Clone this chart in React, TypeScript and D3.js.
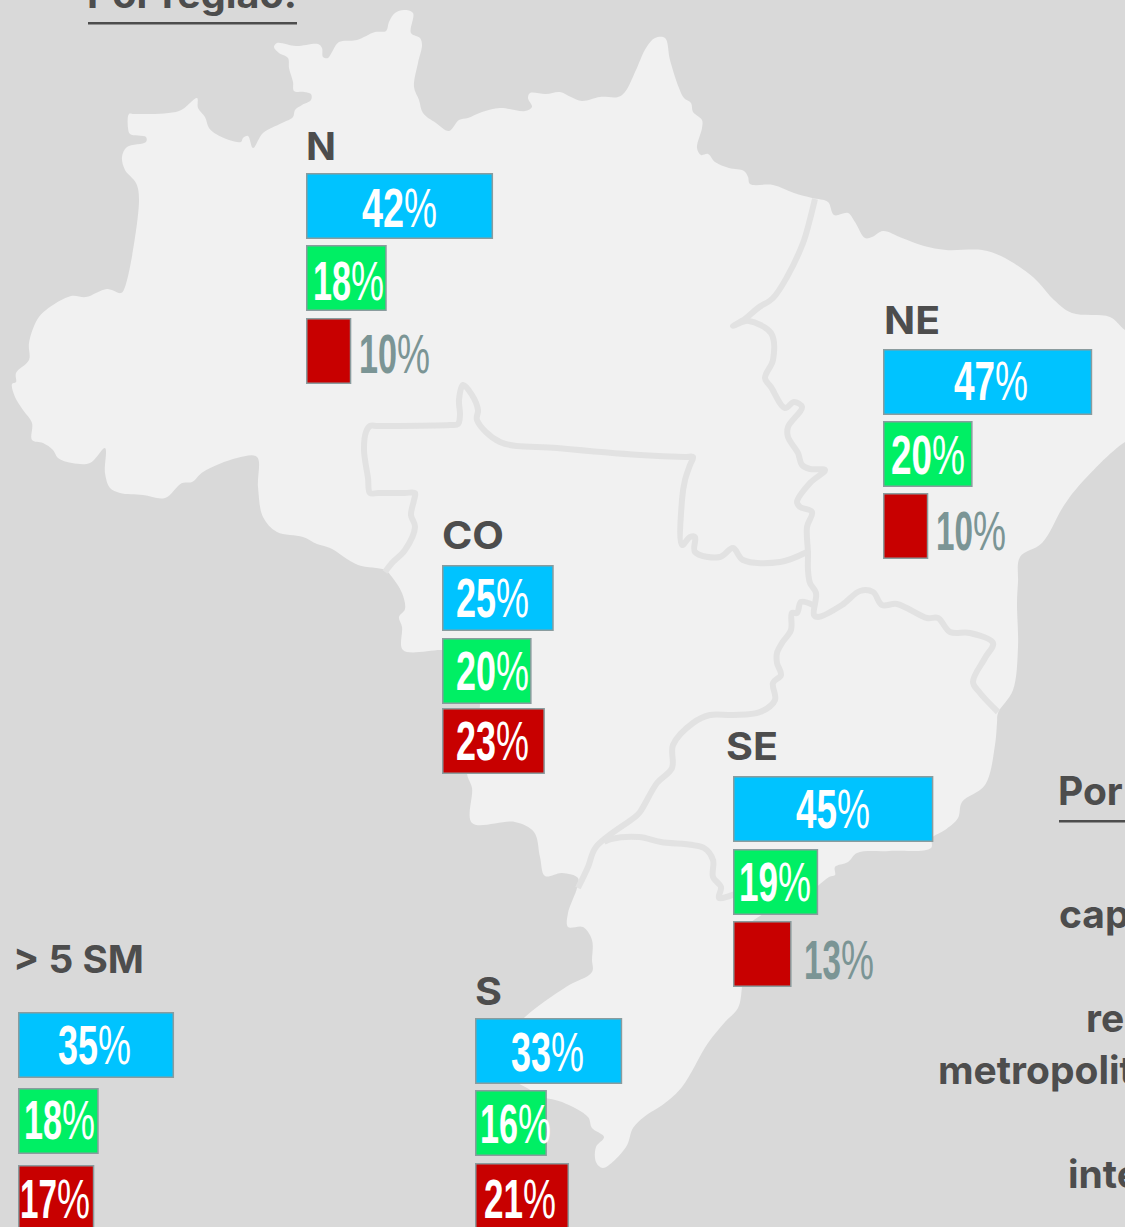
import React from "react";
import * as d3 from "d3";

type P = [number, number];

// ---------- data ----------
const seriesNames = ["azul", "verde", "vermelho"];
const regionNames = ["N", "NE", "CO", "SE", "S", "> 5 SM"];
const valuesN = [42, 18, 10];
const valuesNE = [47, 20, 10];
const valuesCO = [25, 20, 23];
const valuesSE = [45, 19, 13];
const valuesS = [33, 16, 21];
const valuesSM = [35, 18, 17];
const allValues = [valuesN, valuesNE, valuesCO, valuesSE, valuesS, valuesSM];
const sideTitles = ["Por região:", "Por"];
const sideLabels = ["cap", "re", "metropolit", "inte"];

// ---------- map geometry ----------
const brazilOutline: P[] = [
  [129,114],[134,114],[179,111],[197,98],[198,108],[205,117],[209,128],[216,134],[229,140],[241,142],[243,138],[248,136],[253,148],[263,133],[282,123],[293,117],[295,110],[302,105],[311,100],[311,94],[304,92],[294,91],[293,82],[289,68],[288,58],[279,53],[274,47],[277,43],[296,46],[318,44],[322,48],[323,57],[328,58],[332,52],[339,42],[357,40],[375,32],[386,31],[389,22],[395,13],[404,10],[413,13],[411,33],[420,38],[422,45],[418,63],[414,87],[419,100],[423,113],[436,123],[449,131],[459,120],[468,118],[482,112],[500,108],[525,111],[532,107],[528,98],[530,93],[546,94],[560,92],[571,97],[582,101],[600,97],[618,97],[625,92],[636,70],[646,48],[655,38],[665,38],[670,60],[679,88],[684,98],[691,103],[693,112],[702,120],[702,128],[697,148],[701,155],[708,154],[715,162],[729,168],[744,171],[748,177],[750,184],[773,185],[794,193],[812,198],[828,202],[834,215],[848,213],[855,222],[865,238],[872,237],[883,231],[902,238],[924,246],[946,250],[982,250],[1001,256],[1028,273],[1039,283],[1054,300],[1072,313],[1110,317],[1125,330],[1145,340],[1145,435],[1125,442],[1077,488],[1063,507],[1042,543],[1020,557],[1018,582],[1017,603],[1018,647],[1013,690],[998,713],[997,723],[995,745],[985,785],[962,802],[958,818],[945,830],[932,838],[931,848],[889,851],[857,853],[848,862],[835,867],[835,875],[829,877],[800,900],[760,916],[745,930],[742,987],[738,1008],[725,1022],[708,1043],[682,1087],[665,1103],[644,1117],[633,1128],[626,1147],[603,1168],[596,1162],[596,1147],[604,1137],[592,1128],[588,1117],[562,1102],[543,1097],[527,1088],[500,1070],[500,1045],[525,1017],[566,987],[592,972],[592,960],[592,940],[583,927],[568,927],[568,913],[577,888],[578,878],[562,873],[545,876],[540,857],[534,832],[515,822],[472,823],[472,788],[467,773],[475,740],[480,705],[478,680],[465,652],[442,650],[403,650],[402,627],[399,617],[405,609],[402,593],[392,577],[385,570],[358,565],[330,548],[317,544],[303,537],[277,532],[263,517],[258,487],[257,457],[237,458],[203,472],[192,482],[182,483],[165,498],[143,495],[120,493],[110,488],[105,473],[105,448],[90,463],[72,463],[58,458],[53,450],[43,443],[32,440],[32,423],[23,410],[15,397],[12,384],[16,382],[16,373],[29,360],[29,343],[37,320],[46,310],[71,296],[86,297],[107,289],[121,293],[125,287],[139,200],[136,183],[125,170],[122,157],[127,147],[146,142],[146,137],[130,134],[128,128],
];
const borderNorthEast: P[] = [
  [815,199],[809,223],[803,243],[787,277],[773,298],[758,308],[745,319],[733,326],[742,322],[749,321],[771,333],[773,360],[765,378],[771,387],[785,408],[794,402],[802,407],[788,427],[788,437],[798,453],[802,465],[810,469],[825,470],[810,483],[797,502],[800,507],[812,512],[807,527],[808,553],[808,570],[810,583],[816,593],[814,615],[818,617],[842,605],[860,591],[873,592],[882,605],[897,604],[927,618],[938,618],[950,632],[970,633],[993,643],[985,658],[973,682],[980,693],[998,712],
];
const borderNorthCenter: P[] = [
  [385,572],[392,563],[405,550],[415,527],[411,515],[414,500],[415,493],[405,493],[378,493],[370,493],[368,478],[364,450],[366,432],[370,426],[378,426],[450,425],[458,424],[460,415],[459,400],[463,385],[472,395],[478,410],[477,420],[500,442],[557,448],[640,455],[685,457],[693,457],[690,465],[685,480],[682,500],[682,545],[690,537],[695,537],[695,552],[720,557],[733,548],[743,560],[780,562],[807,552],
];
const borderCenterSouth: P[] = [
  [813,605],[801,602],[797,613],[792,613],[791,630],[782,643],[777,653],[777,663],[781,675],[773,683],[775,700],[760,712],[733,715],[710,715],[693,723],[673,745],[672,768],[657,783],[640,812],[635,817],[596,847],[588,867],[578,888],
];
const borderSouthEast: P[] = [
  [604,842],[611,839],[639,837],[661,842],[704,848],[713,860],[713,877],[721,887],[719,898],[735,894],
];
const allBorders = [borderNorthEast, borderNorthCenter, borderCenterSouth, borderSouthEast];

// ---------- layout ----------
const colors = ["#00c3ff", "#00ef64", "#c80000"];
const groupX = [306, 883, 442, 733, 475, 18];
const rowTops = [
  [173, 245, 318],
  [349, 421, 493],
  [565, 638, 708],
  [776, 849, 921],
  [1018, 1090, 1163],
  [1012, 1088, 1165],
];
const headingPos: P[] = [[306, 160], [884, 334], [442, 549], [726, 760], [475, 1005], [13, 973]];
const headingWidths = [30, 56, 62, 52, 27, 131];
const labelInset = [
  [56, 7, 53],
  [71, 8, 53],
  [14, 14, 14],
  [63, 6, 71],
  [36, 5, 9],
  [40, 6, 2],
];
const labelBase = [
  [54, 55, 55],
  [51, 53, 57],
  [52, 52, 52],
  [52, 52, 58],
  [53, 53, 55],
  [52, 51, 53],
];
const labelWidths = [
  [76, 72, 72],
  [75, 75, 71],
  [74, 74, 74],
  [75, 73, 71],
  [74, 72, 73],
  [74, 72, 71],
];
const W = 1125;
const H = 1227;
const BAR_H = 66;
const OUTSIDE_BELOW = 14;

const x = d3.scaleLinear().domain([0, 100]).range([1, 444]);
const land = d3.line<P>().curve(d3.curveCatmullRomClosed.alpha(0.5));
const rail = d3.line<P>().curve(d3.curveCatmullRom.alpha(0.5));

const headFont = "Inter, 'Open Sans', sans-serif";
const numFont = "'Liberation Sans Narrow', 'Liberation Sans', sans-serif";

function Pct({ x0, base, width, value, fill }: { x0: number; base: number; width: number; value: number; fill: string }) {
  const pctW = 33;
  const digW = width - pctW - 1;
  return (
    <g fill={fill} fontFamily={numFont} fontSize={55}>
      <text x={x0} y={base} fontWeight={700} textLength={digW} lengthAdjust="spacingAndGlyphs">{value}</text>
      <text x={x0 + digW} y={base} fontWeight={400} textLength={pctW} lengthAdjust="spacingAndGlyphs">%</text>
    </g>
  );
}

export default function App() {
  return (
    <svg width={W} height={H} viewBox={`0 0 ${W} ${H}`} style={{ position: "absolute", left: 0, top: 0, display: "block" }}>
      <rect width={W} height={H} fill="#d9d9d9" />
      <path d={land(brazilOutline) ?? ""} fill="#f1f1f1" />
      {allBorders.map((b, i) => (
        <path key={i} d={rail(b) ?? ""} fill="none" stroke="#e2e2e2" strokeWidth={6} strokeLinejoin="round" strokeLinecap="butt" />
      ))}

      <g fill="#4d4d4d" fontFamily={headFont} fontWeight={700} fontSize={38}>
        <text x={87} y={8} textLength={210} lengthAdjust="spacingAndGlyphs">{sideTitles[0]}</text>
        <text x={1058} y={805} fontSize={39}>{sideTitles[1]}</text>
        {regionNames.map((n, i) => (
          <text key={n} x={headingPos[i][0]} y={headingPos[i][1]} textLength={headingWidths[i]} lengthAdjust="spacingAndGlyphs">{n}</text>
        ))}
        <g fontWeight={700} fontSize={39}>
          <text x={1059} y={928}>{sideLabels[0]}</text>
          <text x={1086} y={1032}>{sideLabels[1]}</text>
          <text x={938} y={1084}>{sideLabels[2]}</text>
          <text x={1068} y={1188}>{sideLabels[3]}</text>
        </g>
      </g>
      <rect x={88} y={22} width={209} height={2.5} fill="#4d4d4d" />
      <rect x={1059} y={820} width={66} height={2.5} fill="#4d4d4d" />

      {allValues.map((vals, g) => (
        <g key={regionNames[g]}>
          {vals.map((v, s) => {
            const bx = groupX[g];
            const by = rowTops[g][s];
            const w = x(v);
            const outside = v <= OUTSIDE_BELOW;
            return (
              <g key={seriesNames[s]}>
                <rect x={bx + 0.75} y={by + 0.75} width={w - 1.5} height={BAR_H - 1.5} fill={colors[s]} stroke="#8a9c9e" strokeWidth={1.5} />
                <Pct x0={bx + labelInset[g][s]} base={by + labelBase[g][s]} width={labelWidths[g][s]} value={v} fill={outside ? "#7b9595" : "#ffffff"} />
              </g>
            );
          })}
        </g>
      ))}
    </svg>
  );
}
